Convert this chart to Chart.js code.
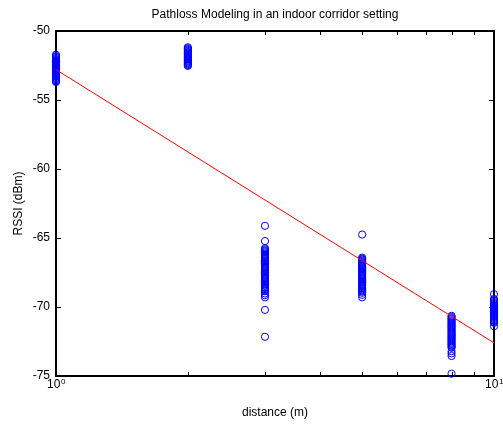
<!DOCTYPE html>
<html>
<head>
<meta charset="utf-8">
<script src="https://cdn.jsdelivr.net/npm/chart.js@4/dist/chart.umd.min.js"></script>
<style>
  html, body { margin: 0; padding: 0; background: #fff; overflow: hidden; }
  canvas { display: block; }
</style>
</head>
<body>
<canvas id="c" width="503" height="424"></canvas>
<script>
// Measurement distances (m) and the RSSI samples recorded at each one (dBm)
const distances = [1, 2, 3, 5, 8, 10];

const rssiAt1 = [-51.72, -51.81, -51.88, -51.95, -52.03, -52.10, -52.14, -52.22, -52.29, -52.35,
  -52.41, -52.48, -52.52, -52.60, -52.66, -52.71, -52.79, -52.84, -52.91, -52.97,
  -53.05, -53.12, -53.18, -53.26, -53.33, -53.41, -53.49, -53.57, -53.64, -53.70];

const rssiAt2 = [-51.18, -51.25, -51.31, -51.38, -51.44, -51.52, -51.57, -51.63, -51.70, -51.76,
  -51.83, -51.89, -51.95, -52.02, -52.08, -52.15, -52.21, -52.28, -52.34, -52.41, -52.47, -52.53];

const rssiAt3 = [-64.12, -65.22, -65.74, -65.82, -65.90, -65.97, -66.05, -66.14, -66.21, -66.30,
  -66.38, -66.45, -66.53, -66.62, -66.70, -66.77, -66.85, -66.94, -67.02, -67.10,
  -67.17, -67.26, -67.34, -67.41, -67.50, -67.58, -67.66, -67.73, -67.82, -67.90,
  -67.97, -68.06, -68.14, -68.22, -68.30, -68.37, -68.46, -68.55, -68.62, -68.70,
  -68.79, -68.86, -69.02, -69.15, -69.30, -70.21, -72.16];

const rssiAt5 = [-64.75, -66.42, -66.50, -66.57, -66.65, -66.73, -66.80, -66.88, -66.97, -67.04,
  -67.12, -67.20, -67.27, -67.36, -67.44, -67.51, -67.60, -67.68, -67.75, -67.84,
  -67.92, -67.99, -68.08, -68.16, -68.23, -68.32, -68.40, -68.47, -68.56, -68.64,
  -68.72, -68.80, -68.88, -68.97, -69.12, -69.30];

const rssiAt8 = [-70.64, -70.72, -70.80, -70.87, -70.95, -71.03, -71.11, -71.18, -71.26, -71.34,
  -71.42, -71.49, -71.57, -71.65, -71.73, -71.80, -71.88, -71.96, -72.04, -72.11,
  -72.19, -72.27, -72.35, -72.42, -72.50, -72.58, -72.66, -72.74, -72.81, -72.89,
  -72.96, -73.20, -73.36, -73.55, -74.83];

const rssiAt10 = [-69.07, -69.42, -69.50, -69.57, -69.65, -69.72, -69.80, -69.88, -69.95, -70.03,
  -70.10, -70.18, -70.26, -70.33, -70.41, -70.48, -70.56, -70.64, -70.71, -70.79,
  -70.86, -70.94, -71.02, -71.09, -71.15, -71.40];

// Fitted path-loss line end points
const fitDistance = [1, 10];
const fitRssi = [-52.8, -72.6];

// Axis ticks
const yTicks = [-75, -70, -65, -60, -55, -50];
const xMajorTicks = [1, 10];
const xMajorExponents = ['0', '1'];
const xMinorTicks = [2, 3, 4, 5, 6, 7, 8, 9];

const FONT = '"Liberation Sans", Arial, Helvetica, sans-serif';

const rssiGroups = [rssiAt1, rssiAt2, rssiAt3, rssiAt5, rssiAt8, rssiAt10];
const samples = distances.flatMap((d, i) => rssiGroups[i].map(r => ({ x: d, y: r })));
const fitPoints = fitDistance.map((d, i) => ({ x: d, y: fitRssi[i] }));

// Boxed axes with inward tick marks and 10^n labels
const framePlugin = {
  id: 'frame',
  beforeDatasetsDraw(chart) {
    const { ctx, chartArea: a, scales: { x, y } } = chart;
    ctx.save();
    ctx.strokeStyle = '#000';
    ctx.lineWidth = 1;
    ctx.beginPath();
    for (const v of yTicks) {
      const py = Math.round(y.getPixelForValue(v)) + 0.5;
      ctx.moveTo(a.left, py); ctx.lineTo(a.left + 5, py);
      ctx.moveTo(a.right, py); ctx.lineTo(a.right - 5, py);
    }
    for (const v of xMinorTicks) {
      const px = Math.round(x.getPixelForValue(v)) + 0.5;
      ctx.moveTo(px, a.bottom); ctx.lineTo(px, a.bottom - 4);
      ctx.moveTo(px, a.top); ctx.lineTo(px, a.top + 4);
    }
    ctx.stroke();
    ctx.lineWidth = 2;
    ctx.strokeRect(a.left, a.top, a.right - a.left, a.bottom - a.top);

    ctx.fillStyle = '#000';
    ctx.textBaseline = 'alphabetic';
    ctx.textAlign = 'left';
    xMajorTicks.forEach((v, i) => {
      const px = x.getPixelForValue(v);
      ctx.font = '12px ' + FONT;
      const wBase = ctx.measureText('10').width;
      ctx.font = '8px ' + FONT;
      const wSup = ctx.measureText(xMajorExponents[i]).width;
      const start = px - (wBase + wSup) / 2;
      ctx.font = '12px ' + FONT;
      ctx.fillText('10', start, a.bottom + 12);
      ctx.font = '8px ' + FONT;
      ctx.fillText(xMajorExponents[i], start + wBase + 0.5, a.bottom + 8);
    });
    ctx.restore();
  }
};

new Chart(document.getElementById('c'), {
  type: 'scatter',
  data: {
    datasets: [
      {
        type: 'line',
        data: fitPoints,
        borderColor: '#ff0000',
        borderWidth: 1,
        pointRadius: 0,
        fill: false,
        tension: 0,
        order: 0
      },
      {
        data: samples,
        pointStyle: 'circle',
        pointRadius: 3.6,
        borderWidth: 1,
        borderColor: '#0000ff',
        backgroundColor: 'rgba(0,0,0,0)',
        clip: false,
        order: 1
      }
    ]
  },
  options: {
    responsive: false,
    animation: false,
    devicePixelRatio: 1,
    layout: { padding: { left: 0, right: 9, top: 0, bottom: 0 } },
    plugins: {
      legend: { display: false },
      tooltip: { enabled: false },
      title: {
        display: true,
        text: 'Pathloss Modeling in an indoor corridor setting',
        fullSize: false,
        color: '#000',
        font: { family: FONT, size: 12, weight: 'normal' },
        padding: { top: 7.5, bottom: 9.1 }
      }
    },
    scales: {
      x: {
        type: 'logarithmic',
        min: 1,
        max: 10,
        grid: { display: false, drawTicks: false },
        border: { display: false },
        ticks: { display: false },
        title: {
          display: true,
          text: 'distance (m)',
          color: '#000',
          font: { family: FONT, size: 12 },
          padding: { top: 0, bottom: 4.3 }
        },
        afterFit(scale) { scale.height = 48; }
      },
      y: {
        min: -75,
        max: -50,
        grid: { display: false, drawTicks: false },
        border: { display: false },
        ticks: { stepSize: 5, color: '#000', font: { family: FONT, size: 12 }, padding: 6 },
        title: {
          display: true,
          text: 'RSSI (dBm)',
          color: '#000',
          font: { family: FONT, size: 12 },
          padding: { top: 11.5, bottom: 0 }
        },
        afterFit(scale) { scale.width = 56; }
      }
    }
  },
  plugins: [framePlugin]
});
</script>
</body>
</html>
